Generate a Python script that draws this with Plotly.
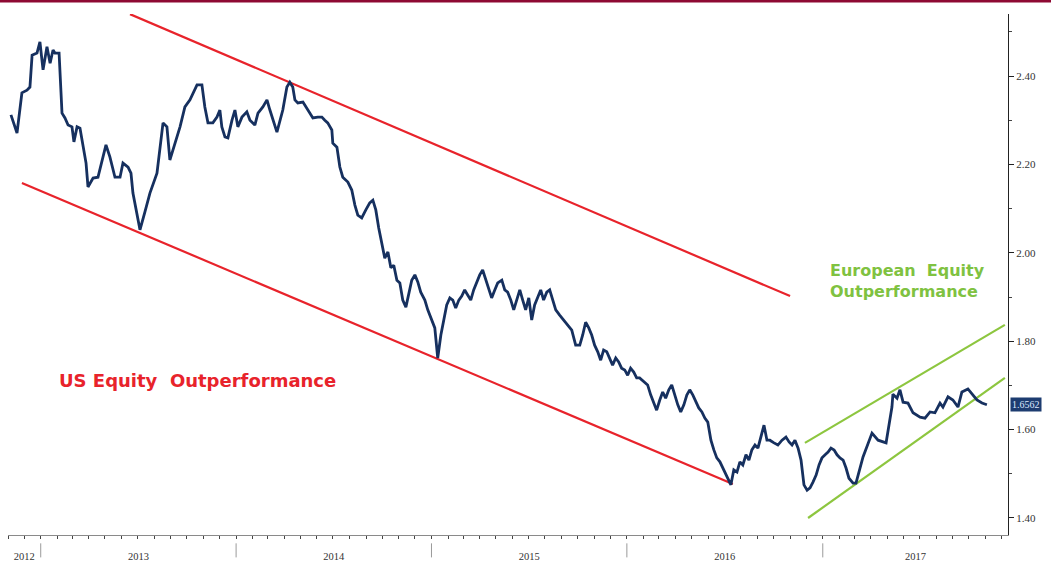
import pandas as pd
import plotly.graph_objects as go

# Relative performance ratio, time stamps as decimal years
ratio_time = [
    2012.848, 2012.879, 2012.904, 2012.930, 2012.945, 2012.956, 2012.981, 2012.996, 2013.012, 2013.032,
    2013.048, 2013.063, 2013.073, 2013.094, 2013.109, 2013.124, 2013.140, 2013.160, 2013.170, 2013.186,
    2013.201, 2013.216, 2013.232, 2013.242, 2013.268, 2013.293, 2013.314, 2013.334, 2013.354, 2013.380,
    2013.406, 2013.421, 2013.447, 2013.462, 2013.472, 2013.493, 2013.508, 2013.533, 2013.559, 2013.595,
    2013.626, 2013.646, 2013.661, 2013.677, 2013.713, 2013.738, 2013.764, 2013.800, 2013.825, 2013.840,
    2013.856, 2013.881, 2013.902, 2013.917, 2013.927, 2013.943, 2013.958, 2013.979, 2013.994, 2014.009,
    2014.030, 2014.055, 2014.071, 2014.096, 2014.112, 2014.137, 2014.158, 2014.173, 2014.198, 2014.209,
    2014.239, 2014.260, 2014.275, 2014.290, 2014.301, 2014.316, 2014.342, 2014.367, 2014.393, 2014.418,
    2014.439, 2014.454, 2014.469, 2014.490, 2014.495, 2014.516, 2014.531, 2014.546, 2014.572, 2014.592,
    2014.608, 2014.623, 2014.643, 2014.664, 2014.684, 2014.700, 2014.715, 2014.730, 2014.746, 2014.761,
    2014.777, 2014.792, 2014.807, 2014.823, 2014.838, 2014.853, 2014.869, 2014.884, 2014.899, 2014.915,
    2014.930, 2014.945, 2014.966, 2014.981, 2015.002, 2015.017, 2015.032, 2015.048, 2015.063, 2015.078,
    2015.094, 2015.109, 2015.124, 2015.140, 2015.155, 2015.170, 2015.186, 2015.201, 2015.216, 2015.232,
    2015.247, 2015.262, 2015.278, 2015.293, 2015.308, 2015.324, 2015.339, 2015.360, 2015.375, 2015.390,
    2015.406, 2015.421, 2015.436, 2015.452, 2015.467, 2015.482, 2015.498, 2015.513, 2015.528, 2015.544,
    2015.559, 2015.574, 2015.590, 2015.605, 2015.620, 2015.636, 2015.656, 2015.677, 2015.697, 2015.718,
    2015.738, 2015.759, 2015.774, 2015.789, 2015.805, 2015.820, 2015.835, 2015.851, 2015.866, 2015.881,
    2015.897, 2015.912, 2015.927, 2015.943, 2015.958, 2015.973, 2015.989, 2016.004, 2016.019, 2016.035,
    2016.050, 2016.065, 2016.086, 2016.106, 2016.122, 2016.137, 2016.152, 2016.168, 2016.183, 2016.198,
    2016.214, 2016.229, 2016.244, 2016.260, 2016.275, 2016.291, 2016.306, 2016.321, 2016.337, 2016.352,
    2016.367, 2016.383, 2016.398, 2016.413, 2016.429, 2016.444, 2016.459, 2016.475, 2016.490, 2016.506,
    2016.521, 2016.531, 2016.546, 2016.562, 2016.577, 2016.592, 2016.608, 2016.623, 2016.638, 2016.654,
    2016.669, 2016.684, 2016.700, 2016.715, 2016.730, 2016.751, 2016.771, 2016.792, 2016.812, 2016.828,
    2016.843, 2016.858, 2016.874, 2016.889, 2016.904, 2016.920, 2016.935, 2016.950, 2016.966, 2016.981,
    2016.996, 2017.012, 2017.027, 2017.042, 2017.058, 2017.073, 2017.088, 2017.104, 2017.119, 2017.134,
    2017.155, 2017.170, 2017.206, 2017.252, 2017.283, 2017.324, 2017.354, 2017.359, 2017.380, 2017.395,
    2017.411, 2017.436, 2017.462, 2017.498, 2017.523, 2017.549, 2017.574, 2017.600, 2017.615, 2017.641,
    2017.666, 2017.692, 2017.712, 2017.743, 2017.769, 2017.789, 2017.815, 2017.840,
]
ratio_value = [
    2.312, 2.271, 2.362, 2.368, 2.375, 2.447, 2.452, 2.477, 2.414, 2.466,
    2.429, 2.459, 2.452, 2.452, 2.316, 2.305, 2.289, 2.285, 2.251, 2.285,
    2.282, 2.248, 2.203, 2.149, 2.169, 2.171, 2.210, 2.244, 2.217, 2.171,
    2.171, 2.203, 2.194, 2.180, 2.135, 2.085, 2.052, 2.092, 2.135, 2.180,
    2.294, 2.285, 2.210, 2.233, 2.285, 2.330, 2.346, 2.380, 2.380, 2.330,
    2.294, 2.294, 2.307, 2.323, 2.285, 2.262, 2.260, 2.300, 2.323, 2.285,
    2.307, 2.319, 2.300, 2.289, 2.316, 2.330, 2.346, 2.323, 2.285, 2.273,
    2.323, 2.375, 2.386, 2.375, 2.346, 2.339, 2.341, 2.323, 2.305, 2.307,
    2.307, 2.300, 2.294, 2.278, 2.248, 2.239, 2.194, 2.171, 2.160, 2.142,
    2.108, 2.085, 2.079, 2.097, 2.113, 2.119, 2.097, 2.056, 2.018, 1.988,
    2.002, 1.966, 1.972, 1.938, 1.932, 1.893, 1.877, 1.904, 1.938, 1.950,
    1.934, 1.911, 1.893, 1.871, 1.848, 1.830, 1.762, 1.814, 1.848, 1.882,
    1.898, 1.893, 1.875, 1.893, 1.902, 1.916, 1.904, 1.893, 1.916, 1.934,
    1.950, 1.961, 1.938, 1.916, 1.898, 1.916, 1.932, 1.938, 1.916, 1.911,
    1.893, 1.871, 1.893, 1.916, 1.893, 1.871, 1.898, 1.848, 1.882, 1.900,
    1.916, 1.893, 1.911, 1.916, 1.893, 1.871, 1.859, 1.848, 1.837, 1.825,
    1.791, 1.791, 1.814, 1.843, 1.830, 1.814, 1.791, 1.776, 1.757, 1.780,
    1.776, 1.762, 1.746, 1.762, 1.753, 1.739, 1.735, 1.723, 1.739, 1.730,
    1.717, 1.717, 1.708, 1.701, 1.678, 1.660, 1.644, 1.667, 1.685, 1.671,
    1.690, 1.701, 1.678, 1.656, 1.640, 1.656, 1.678, 1.690, 1.678, 1.662,
    1.649, 1.640, 1.626, 1.617, 1.576, 1.554, 1.536, 1.527, 1.513, 1.497,
    1.486, 1.475, 1.509, 1.504, 1.527, 1.520, 1.543, 1.531, 1.554, 1.565,
    1.558, 1.581, 1.610, 1.576, 1.576, 1.570, 1.565, 1.576, 1.583, 1.572,
    1.565, 1.576, 1.558, 1.531, 1.475, 1.463, 1.468, 1.481, 1.497, 1.520,
    1.536, 1.543, 1.549, 1.558, 1.554, 1.543, 1.536, 1.531, 1.513, 1.490,
    1.479, 1.479, 1.538, 1.592, 1.576, 1.570, 1.651, 1.680, 1.671, 1.690,
    1.662, 1.660, 1.638, 1.628, 1.626, 1.640, 1.638, 1.660, 1.651, 1.674,
    1.667, 1.651, 1.685, 1.692, 1.678, 1.667, 1.660, 1.6562,
]

# Trend channels: (start time, end time), (start value, end value)
us_upper_t = [2013.457, 2016.833]
us_upper_v = [2.540, 1.902]
us_lower_t = [2012.904, 2016.541]
us_lower_v = [2.158, 1.477]
eu_upper_t = [2016.909, 2017.932]
eu_upper_v = [1.570, 1.837]
eu_lower_t = [2016.925, 2017.932]
eu_lower_v = [1.400, 1.717]

y_ticks = [1.40, 1.60, 1.80, 2.00, 2.20, 2.40]
year_labels = ["2012", "2013", "2014", "2015", "2016", "2017"]
x_start, x_end = 2012.833, 2017.948
y_min, y_max = 1.3615, 2.5403

NAVY = "#16305f"
RED = "#e8232b"
GREEN = "#8dc63f"


def to_date(t):
    year = int(t)
    start = pd.Timestamp(year=year, month=1, day=1)
    end = pd.Timestamp(year=year + 1, month=1, day=1)
    return start + (end - start) * (t - year)


def dates(ts):
    return [to_date(t) for t in ts]


fig = go.Figure()

for tt, vv, col in [
    (us_upper_t, us_upper_v, RED),
    (us_lower_t, us_lower_v, RED),
    (eu_upper_t, eu_upper_v, GREEN),
    (eu_lower_t, eu_lower_v, GREEN),
]:
    fig.add_trace(go.Scatter(x=dates(tt), y=vv, mode="lines",
                             line=dict(color=col, width=2.2), hoverinfo="skip"))

fig.add_trace(go.Scatter(x=dates(ratio_time), y=ratio_value, mode="lines",
                         line=dict(color=NAVY, width=2.8)))

# Year labels centred in the visible part of each year
label_pos = []
for lab in year_labels:
    y0 = max(float(lab), x_start)
    y1 = min(float(lab) + 1, x_end)
    label_pos.append(to_date((y0 + y1) / 2))

shapes = []
for yr in range(2013, 2018):
    shapes.append(dict(type="line", xref="x", yref="paper",
                       x0=to_date(yr), x1=to_date(yr), y0=-0.016, y1=-0.043,
                       line=dict(color="#9a9a9a", width=1)))
# Top rule
shapes.append(dict(type="rect", xref="paper", yref="paper",
                   x0=-0.01, x1=1.05, y0=1.0221, y1=1.03,
                   line=dict(width=0), fillcolor="#8e0a33"))

fig.update_layout(
    width=1051, height=561,
    margin=dict(l=8, r=43, t=14, b=26),
    paper_bgcolor="white", plot_bgcolor="white",
    showlegend=False,
    shapes=shapes,
    xaxis=dict(
        type="date",
        range=[to_date(x_start), to_date(x_end)],
        automargin=False,
        showgrid=False, zeroline=False,
        showline=True, linecolor="#8a8a8a", linewidth=1,
        tickmode="array", tickvals=label_pos, ticktext=year_labels,
        ticks="", ticklabelstandoff=11,
        tickfont=dict(family="Liberation Serif", size=10.5, color="#333333"),
        minor=dict(tickmode="linear", tick0="2012-01-01", dtick="M1",
                   ticks="outside", ticklen=3, tickcolor="#444444", showgrid=False),
    ),
    yaxis=dict(
        side="right",
        range=[y_min, y_max],
        automargin=False,
        showgrid=False, zeroline=False,
        showline=True, linecolor="#222222", linewidth=1,
        tickmode="array", tickvals=y_ticks, ticktext=[f"{v:.2f}" for v in y_ticks],
        ticks="outside", ticklen=5, tickcolor="#222222",
        tickfont=dict(family="Liberation Serif", size=11, color="#333333"),
        minor=dict(tickmode="linear", tick0=1.3, dtick=0.1,
                   ticks="outside", ticklen=3, tickcolor="#444444", showgrid=False),
    ),
    annotations=[
        dict(xref="paper", yref="paper", x=0.189, y=0.2956,
             text="<b>US Equity  Outperformance</b>", showarrow=False,
             xanchor="center", yanchor="middle",
             font=dict(family="DejaVu Sans", size=18, color=RED)),
        dict(xref="paper", yref="paper", x=0.820, y=0.4866,
             text="<b>European  Equity<br>Outperformance</b>", showarrow=False,
             xanchor="left", yanchor="middle", align="left",
             font=dict(family="DejaVu Sans", size=16, color="#7fc241")),
        dict(xref="paper", yref="y", x=1.0, y=ratio_value[-1],
             text=f"{ratio_value[-1]:.4f}", showarrow=False,
             xanchor="left", yanchor="middle", xshift=2,
             bgcolor="#1d3c70", borderpad=1,
             font=dict(family="Liberation Serif", size=10, color="#dce8ff")),
    ],
)

fig.write_html("out.html")
